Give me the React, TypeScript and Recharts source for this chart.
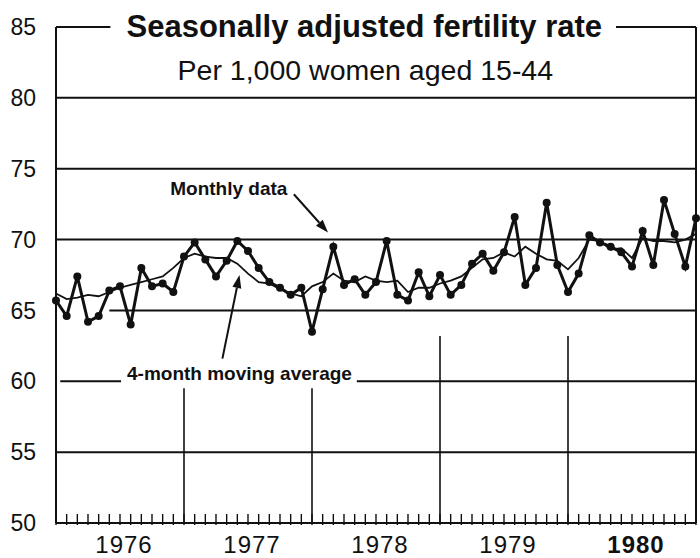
import React from "react";
import { LineChart, Line, XAxis, YAxis, ReferenceLine, ReferenceDot } from "recharts";

const yearLabels = ["1976", "1977", "1978", "1979", "1980"];
const rateTicks = [50, 55, 60, 65, 70, 75, 80, 85];

// births per 1,000 women 15-44, monthly from Jan 1976
const monthlyRate = [
  65.7, 64.6, 67.4, 64.2, 64.6, 66.4, 66.7, 64.0, 68.0, 66.7, 66.9, 66.3,
  68.8, 69.8, 68.6, 67.4, 68.5, 69.9, 69.2, 68.0, 67.0, 66.6, 66.1, 66.6,
  63.5, 66.5, 69.5, 66.8, 67.2, 66.1, 67.0, 69.9, 66.1, 65.7, 67.7, 66.0,
  67.5, 66.1, 66.8, 68.3, 69.0, 67.8, 69.1, 71.6, 66.8, 68.0, 72.6, 68.2,
  66.3, 67.6, 70.3, 69.8, 69.5, 69.1, 68.1, 70.6, 68.2, 72.8, 70.4, 68.1,
  71.5,
];

const movingAverage = [
  66.2, 65.8, 65.9, 66.1, 66.0, 66.3, 66.6, 66.8, 67.0, 67.2, 67.4, 68.0,
  68.7, 69.0, 68.8, 68.7, 68.7, 68.3, 67.6, 67.0, 66.9, 66.5, 66.2, 66.0,
  66.7, 67.0, 67.6, 67.1, 67.0, 67.4, 67.1, 67.0, 67.1, 66.3, 66.6, 66.6,
  66.9, 67.1, 67.4, 68.0, 68.6, 68.7, 69.1, 68.8, 69.5, 69.0, 68.6, 68.5,
  67.9, 68.7, 70.0, 69.9, 69.3, 69.4, 68.7, 70.1, 69.9, 69.9, 69.8, 70.0,
  70.4,
];

const data = monthlyRate.map((v, i) => ({ month: i, monthly: v, average: movingAverage[i] }));
const monthTicks = data.map((d) => d.month);

const FONT = '"Liberation Sans", Arial, Helvetica, sans-serif';
const INK = "#111";

function MonthTick(props: any) {
  const { x, y, payload } = props;
  const m = payload.value;
  const year = m % 12 === 6 ? yearLabels[(m - 6) / 12] : null;
  return (
    <g>
      <line x1={x} x2={x} y1={y} y2={y - 11} stroke={INK} strokeWidth={1.4} />
      {year && (
        <text
          x={x + 4}
          y={y + 28}
          textAnchor="middle"
          fontSize={24}
          fontFamily={FONT}
          fontWeight={year === "1980" ? 700 : 400}
          letterSpacing={1}
          fill={INK}
        >
          {year}
        </text>
      )}
    </g>
  );
}

function Arrow(props: any) {
  const { x1, y1, x2, y2 } = props;
  const ang = Math.atan2(y2 - y1, x2 - x1);
  const len = 13;
  const half = 4.5;
  const bx = x2 - len * Math.cos(ang);
  const by = y2 - len * Math.sin(ang);
  const px = -Math.sin(ang) * half;
  const py = Math.cos(ang) * half;
  return (
    <g>
      <line x1={x1} y1={y1} x2={bx} y2={by} stroke={INK} strokeWidth={2} />
      <path d={`M${x2},${y2}L${bx + px},${by + py}L${bx - px},${by - py}Z`} fill={INK} />
    </g>
  );
}

const grid = { stroke: INK, strokeWidth: 2, ifOverflow: "visible" as const };
const textStyle = { fill: INK, fontFamily: FONT, position: "center" as const };

export default function App() {
  return (
    <div style={{ position: "absolute", left: 0, top: 0, width: 700, height: 558, background: "#fff" }}>
      <LineChart width={700} height={558} data={data} margin={{ top: 27, right: 4, bottom: 0, left: 0 }}>
        <XAxis
          dataKey="month"
          type="number"
          domain={[0, 60]}
          ticks={monthTicks}
          interval={0}
          height={35}
          tickSize={0}
          tickLine={false}
          axisLine={{ stroke: INK, strokeWidth: 2 }}
          tick={(p: any) => <MonthTick {...p} />}
        />
        <YAxis
          type="number"
          domain={[50, 85]}
          ticks={rateTicks}
          width={56}
          tickSize={0}
          tickMargin={20}
          tickLine={false}
          axisLine={{ stroke: INK, strokeWidth: 2 }}
          tick={{ fill: INK, fontSize: 23, fontFamily: FONT }}
        />

        {/* frame top, broken by the title */}
        <ReferenceLine {...grid} segment={[{ x: 0, y: 85 }, { x: 5.1, y: 85 }]} />
        <ReferenceLine {...grid} segment={[{ x: 52.5, y: 85 }, { x: 60, y: 85 }]} />
        <ReferenceLine {...grid} x={60} />

        <ReferenceLine {...grid} y={80} />
        <ReferenceLine {...grid} y={75} />
        <ReferenceLine {...grid} y={70} />
        <ReferenceLine {...grid} segment={[{ x: 5.0, y: 65 }, { x: 60, y: 65 }]} />
        <ReferenceLine {...grid} segment={[{ x: 0.4, y: 60 }, { x: 6.1, y: 60 }]} />
        <ReferenceLine {...grid} segment={[{ x: 28.2, y: 60 }, { x: 60, y: 60 }]} />
        <ReferenceLine {...grid} y={55} />

        {/* year dividers */}
        <ReferenceLine {...grid} strokeWidth={1.6} segment={[{ x: 12, y: 50 }, { x: 12, y: 59.5 }]} />
        <ReferenceLine {...grid} strokeWidth={1.6} segment={[{ x: 24, y: 50 }, { x: 24, y: 59.5 }]} />
        <ReferenceLine {...grid} strokeWidth={1.6} segment={[{ x: 36, y: 50 }, { x: 36, y: 63.2 }]} />
        <ReferenceLine {...grid} strokeWidth={1.6} segment={[{ x: 48, y: 50 }, { x: 48, y: 63.2 }]} />

        {/* annotation arrows */}
        <ReferenceLine ifOverflow="visible" segment={[{ x: 22.3, y: 73.2 }, { x: 25.5, y: 70.5 }]} shape={(p: any) => <Arrow {...p} />} />
        <ReferenceLine ifOverflow="visible" segment={[{ x: 15.6, y: 61.6 }, { x: 17.2, y: 67.5 }]} shape={(p: any) => <Arrow {...p} />} />

        <ReferenceDot
          x={28.9}
          y={85.1}
          r={1}
          fill="none"
          stroke="none"
          ifOverflow="visible"
          label={{ ...textStyle, value: "Seasonally adjusted fertility rate", fontSize: 31, fontWeight: 700 }}
        />
        <ReferenceDot
          x={29.0}
          y={82.0}
          r={1}
          fill="none"
          stroke="none"
          ifOverflow="visible"
          label={{ ...textStyle, value: "Per 1,000 women aged 15-44", fontSize: 28.5 }}
        />
        <ReferenceDot
          x={16.2}
          y={73.6}
          r={1}
          fill="none"
          stroke="none"
          ifOverflow="visible"
          label={{ ...textStyle, value: "Monthly data", fontSize: 19, fontWeight: 700 }}
        />
        <ReferenceDot
          x={17.2}
          y={60.55}
          r={1}
          fill="none"
          stroke="none"
          ifOverflow="visible"
          label={{ ...textStyle, value: "4-month moving average", fontSize: 19, fontWeight: 700 }}
        />

        <Line
          dataKey="average"
          type="linear"
          stroke={INK}
          strokeWidth={1.8}
          dot={false}
          isAnimationActive={false}
        />
        <Line
          dataKey="monthly"
          type="linear"
          stroke={INK}
          strokeWidth={3}
          dot={{ r: 4, fill: INK, stroke: INK, strokeWidth: 0 }}
          isAnimationActive={false}
        />
      </LineChart>
    </div>
  );
}
